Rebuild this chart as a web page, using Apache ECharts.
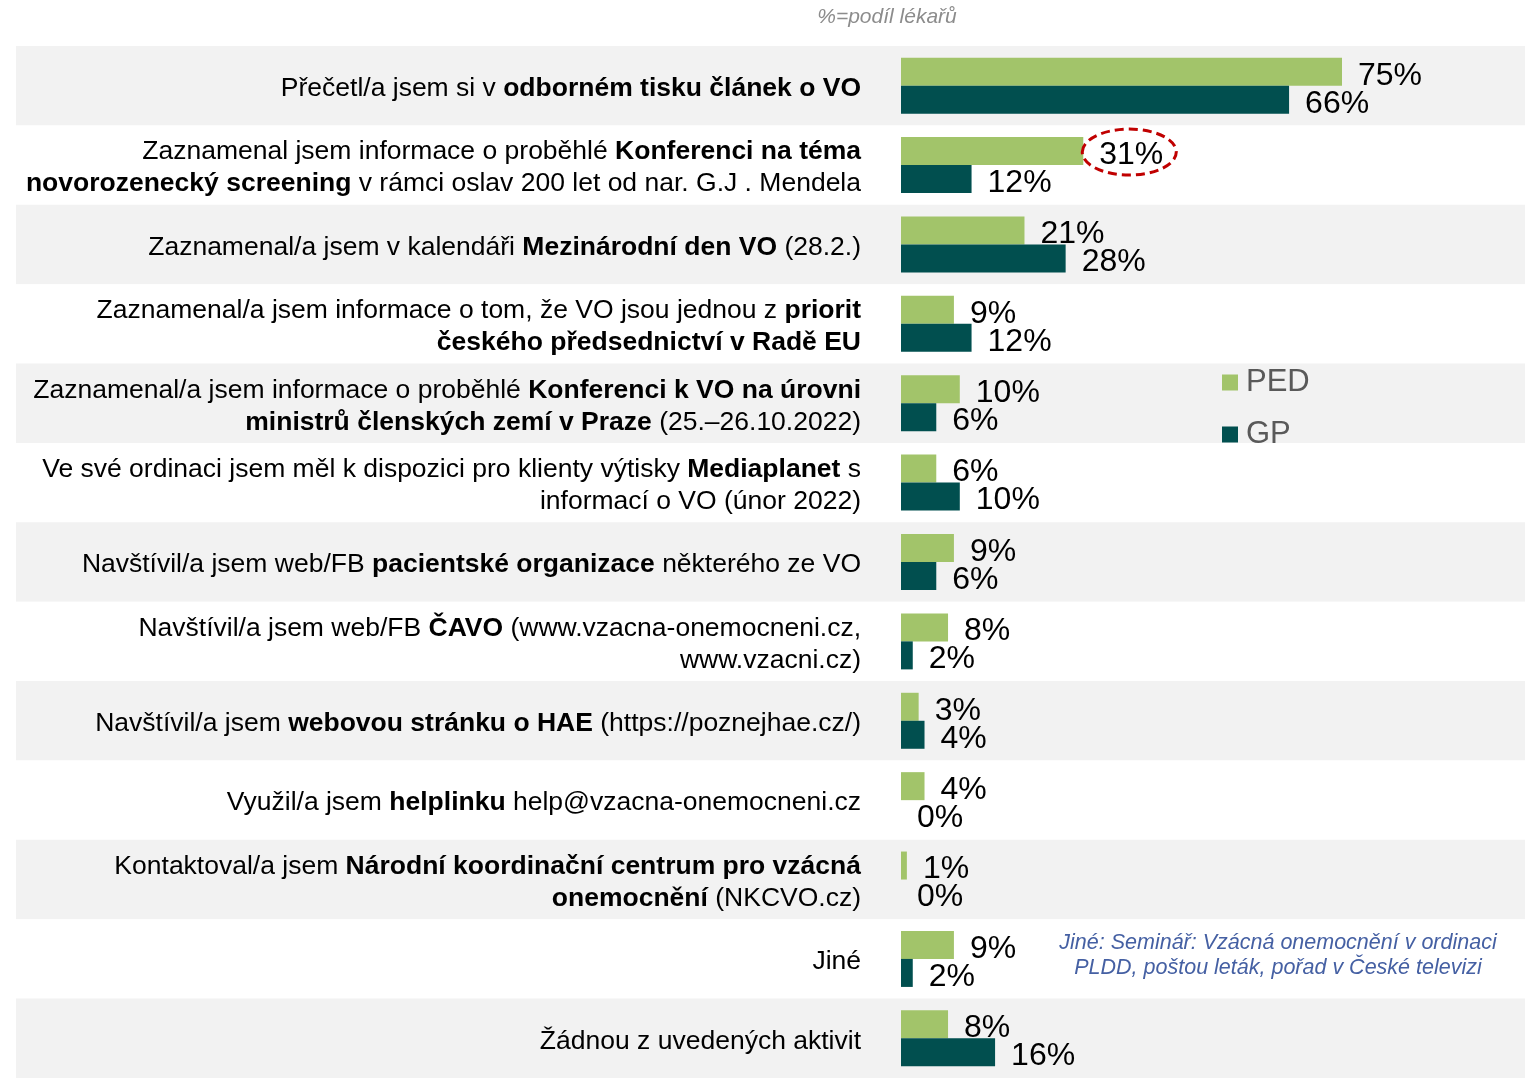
<!DOCTYPE html>
<html>
<head>
<meta charset="utf-8">
<script src="https://cdn.jsdelivr.net/npm/echarts@6/dist/echarts.min.js"></script>
<style>
html,body{margin:0;padding:0;background:#fff;}
#chart{width:1532px;height:1078px;}
</style>
</head>
<body>
<div id="chart"></div>
<script>
var categories = [
  'Přečetl/a jsem si v {b|odborném tisku článek o VO}',
  'Zaznamenal jsem informace o proběhlé {b|Konferenci na téma}\n{b|novorozenecký screening} v rámci oslav 200 let od nar. G.J . Mendela',
  'Zaznamenal/a jsem v kalendáři {b|Mezinárodní den VO} (28.2.)',
  'Zaznamenal/a jsem informace o tom, že VO jsou jednou z {b|priorit}\n{b|českého předsednictví v Radě EU}',
  'Zaznamenal/a jsem informace o proběhlé {b|Konferenci k VO na úrovni}\n{b|ministrů členských zemí v Praze} (25.–26.10.2022)',
  'Ve své ordinaci jsem měl k dispozici pro klienty výtisky {b|Mediaplanet} s\ninformací o VO (únor 2022)',
  'Navštívil/a jsem web/FB {b|pacientské organizace} některého ze VO',
  'Navštívil/a jsem web/FB {b|ČAVO} (www.vzacna-onemocneni.cz,\nwww.vzacni.cz)',
  'Navštívil/a jsem {b|webovou stránku o HAE} (https://poznejhae.cz/)',
  'Využil/a jsem {b|helplinku} help@vzacna-onemocneni.cz',
  'Kontaktoval/a jsem {b|Národní koordinační centrum pro vzácná}\n{b|onemocnění} (NKCVO.cz)',
  'Jiné',
  'Žádnou z uvedených aktivit'
];
var seriesNames = ['PED', 'GP'];
var pedValues = [75, 31, 21, 9, 10, 6, 9, 8, 3, 4, 1, 9, 8];
var gpValues  = [66, 12, 28, 12, 6, 10, 6, 2, 4, 0, 0, 2, 16];
var titleText = '%=podíl lékařů';
var noteText = 'Jiné: Seminář: Vzácná onemocnění v ordinaci\nPLDD, poštou leták, pořad v České televizi';
var highlightIndex = 1; // PED value circled

var FONT = '"Liberation Sans", Arial, sans-serif';
var chart = echarts.init(document.getElementById('chart'), null, {renderer: 'canvas'});

var labelStyle = {
  show: true, position: 'right', distance: 16, offset: [0, 4],
  formatter: '{c}%', fontSize: 32, color: '#000', fontFamily: FONT
};

var option = {
  animation: false,
  backgroundColor: '#ffffff',
  textStyle: {fontFamily: FONT},
  grid: [
    {left: 16, right: 7, top: 46, bottom: 0, containLabel: false},
    {left: 901, width: 588, top: 46, bottom: 0, containLabel: false}
  ],
  xAxis: [
    {gridIndex: 0, type: 'value', min: 0, max: 1, show: false},
    {gridIndex: 1, type: 'value', min: 0, max: 100, show: false}
  ],
  yAxis: [
    {
      gridIndex: 0, type: 'category', data: categories, inverse: true,
      axisLine: {show: false}, axisTick: {show: false}, axisLabel: {show: false},
      splitLine: {show: false},
      splitArea: {show: true, interval: 0, areaStyle: {color: ['#f2f2f2', '#ffffff']}}
    },
    {
      gridIndex: 1, type: 'category', data: categories, inverse: true,
      axisLine: {show: false}, axisTick: {show: false},
      splitLine: {show: false}, splitArea: {show: false},
      axisLabel: {
        show: true, interval: 0, margin: 40, align: 'right',
        fontSize: 26.5, lineHeight: 32, color: '#000', fontFamily: FONT,
        padding: [6, 0, 0, 0],
        rich: {
          b: {fontWeight: 'bold', fontSize: 26.5, lineHeight: 32, color: '#000', fontFamily: FONT}
        }
      }
    }
  ],
  legend: {
    data: seriesNames, orient: 'vertical', left: 1217, top: 362,
    itemWidth: 16, itemHeight: 16, itemGap: 21, icon: 'rect',
    textStyle: {fontSize: 31, color: '#595959', fontFamily: FONT, padding: [3, 0, 0, 3]}
  },
  series: [
    {
      name: seriesNames[0], type: 'bar', xAxisIndex: 1, yAxisIndex: 1,
      data: pedValues, barWidth: 28, barGap: '0%',
      itemStyle: {color: '#a2c46a'}, label: labelStyle
    },
    {
      name: seriesNames[1], type: 'bar', xAxisIndex: 1, yAxisIndex: 1,
      data: gpValues, barWidth: 28, barGap: '0%',
      itemStyle: {color: '#014f4f'}, label: labelStyle
    }
  ],
  graphic: [
    {
      type: 'text', x: 887, y: 17, z: 100,
      style: {text: titleText, fill: '#8c8c8c', font: 'italic 21px ' + FONT, textAlign: 'center', textVerticalAlign: 'middle'}
    },
    {
      type: 'text', x: 1278, y: 956, z: 100,
      style: {text: noteText, fill: '#4560a3', font: 'italic 21.5px ' + FONT, lineHeight: 25, textAlign: 'center', textVerticalAlign: 'middle'}
    }
  ]
};
chart.setOption(option);

// dashed ellipse around the highlighted PED label
var p = chart.convertToPixel({xAxisIndex: 1, yAxisIndex: 1}, [pedValues[highlightIndex], highlightIndex]);
var g = option.graphic.slice();
g.push({
  type: 'ellipse', z: 100,
  shape: {cx: p[0] + 16 + 30, cy: p[1] - 13, rx: 47, ry: 23},
  style: {fill: 'none', stroke: '#c00000', lineWidth: 3, lineDash: [9, 5]}
});
chart.setOption({graphic: g});
</script>
</body>
</html>
